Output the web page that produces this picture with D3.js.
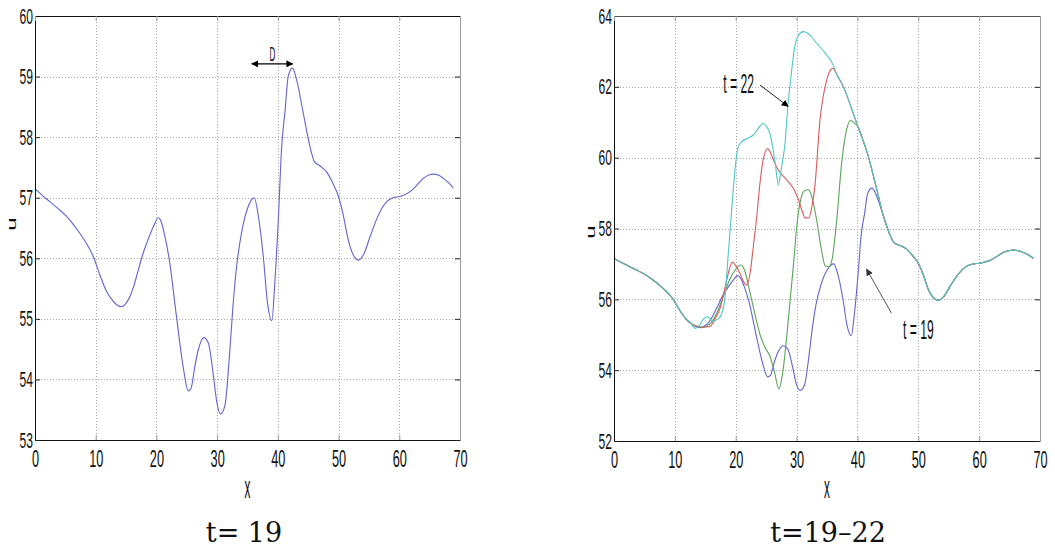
<!DOCTYPE html>
<html>
<head>
<meta charset="utf-8">
<script src="https://cdn.jsdelivr.net/npm/d3@7"></script>
<style>
  body { margin: 0; background: #fff; }
  svg { display: block; }
</style>
</head>
<body>
<svg id="fig" width="1055" height="553"></svg>
<script>
// ---- axis ticks ----
const xTicks = [0, 10, 20, 30, 40, 50, 60, 70];
const uTicksLeft = [53, 54, 55, 56, 57, 58, 59, 60];
const uTicksRight = [52, 54, 56, 58, 60, 62, 64];

// ---- u(x) profiles, [x, u] pairs ----
// shared start, identical for every time level
const lead = [[0, 57.15], [1.2, 57.04], [2.5, 56.93], [3.8, 56.82], [5.2, 56.69], [6.3, 56.56],
  [7.4, 56.41], [8.5, 56.24], [9.6, 56.03], [10.7, 55.72], [11.8, 55.45], [12.8, 55.3]];

// t = 19
const t19Mid = [[13.6, 55.22], [14.3, 55.2], [15.0, 55.26], [15.6, 55.36], [16.2, 55.52], [17.0, 55.8],
  [17.7, 56.05], [18.4, 56.25], [19.5, 56.52], [20.3, 56.67], [20.8, 56.6], [21.4, 56.36], [22.2, 55.92],
  [23.3, 55.04], [24.4, 54.21], [25.25, 53.81], [25.7, 53.85], [26.3, 54.2], [26.9, 54.49], [27.8, 54.69],
  [28.55, 54.6], [29.4, 54.05], [29.9, 53.65], [30.6, 53.43], [31.3, 53.58], [32.1, 54.49], [32.6, 55.2],
  [33.2, 55.86], [34.0, 56.41], [35.1, 56.85], [36.1, 57.0], [36.8, 56.69], [37.6, 56.03], [38.3, 55.26],
  [39.0, 54.97], [39.5, 55.59], [40.1, 56.69], [40.6, 57.79], [41.2, 58.45], [41.7, 59.0], [42.4, 59.14],
  [43.1, 58.94]];

// t = 20
const t20Mid = [[13.6, 55.25], [14.5, 55.2], [15.3, 55.25], [16.0, 55.35], [17.0, 55.65], [18.0, 56.1],
  [19.0, 56.55], [20.0, 56.85], [20.8, 56.97], [21.5, 56.8], [22.2, 56.3], [23.0, 55.7], [24.0, 55.0],
  [24.8, 54.65], [25.6, 54.4], [26.3, 54.0], [27.1, 53.47], [27.7, 53.9], [28.3, 54.8], [28.9, 55.9],
  [29.5, 57.0], [30.0, 58.0], [30.6, 58.75], [31.2, 59.05], [31.9, 59.1], [32.5, 58.9], [33.3, 58.24],
  [34.1, 57.39], [34.7, 56.95], [35.3, 56.92], [35.8, 57.1], [36.6, 58.24], [37.4, 59.84], [38.2, 60.78],
  [38.9, 61.05], [39.5, 60.98], [40.1, 60.87]];

// t = 21
const t21Mid = [[13.6, 55.24], [14.3, 55.22], [15.2, 55.22], [15.9, 55.25], [16.6, 55.45], [17.5, 55.78],
  [18.2, 56.3], [18.8, 56.75], [19.45, 57.05], [20.0, 56.95], [20.7, 56.73], [21.3, 56.5], [21.8, 56.4],
  [22.35, 56.73], [22.9, 57.5], [23.4, 58.24], [24.0, 59.3], [24.5, 59.93], [25.25, 60.26], [25.7, 60.15],
  [26.2, 59.93], [27.0, 59.65], [28.4, 59.37], [29.5, 59.13], [30.3, 58.82], [30.9, 58.5], [31.4, 58.3],
  [32.0, 58.3], [32.5, 58.6], [33.0, 59.18], [33.85, 61.06], [34.95, 62.19], [35.6, 62.48], [36.0, 62.52]];

// t = 22
const t22Mid = [[13.0, 55.22], [13.4, 55.18], [14.0, 55.25], [14.6, 55.42], [15.3, 55.51], [15.8, 55.45],
  [16.4, 55.37], [16.9, 55.43], [17.25, 55.46], [17.7, 55.6], [18.2, 56.0], [18.7, 57.1], [19.1, 58.0],
  [19.6, 59.1], [20.0, 59.85], [20.4, 60.3], [21.0, 60.45], [22.0, 60.55], [22.9, 60.64], [23.8, 60.85],
  [24.5, 60.97], [25.0, 60.9], [25.6, 60.69], [26.5, 59.84], [27.0, 59.23], [27.55, 59.75], [28.1, 60.4],
  [28.6, 61.53], [28.9, 62.0], [29.7, 63.13], [30.3, 63.45], [31.1, 63.56], [32.2, 63.46], [33.3, 63.23],
  [34.7, 62.95], [36.0, 62.62]];

// falling front shared by t = 20..22
const crest = [[36.6, 62.35], [37.7, 62.0], [38.9, 61.45], [40.1, 60.87], [41.0, 60.45], [41.8, 60.03],
  [42.6, 59.5], [43.4, 58.95]];

// common trailing part, identical for every time level
const tail = [[44.2, 58.39], [45.3, 57.84], [46.0, 57.6], [47.0, 57.52], [48.0, 57.43], [49.0, 57.25],
  [50.0, 57.02], [50.8, 56.7], [51.6, 56.3], [52.4, 56.06], [53.3, 55.97], [54.2, 56.08], [55.2, 56.36],
  [56.5, 56.7], [57.9, 56.93], [59.0, 57.0], [60.1, 57.02], [61.8, 57.1], [63.0, 57.22], [63.95, 57.32],
  [65.0, 57.38], [65.6, 57.39], [66.5, 57.37], [67.25, 57.32], [68.1, 57.25], [68.9, 57.16]];

const t19 = lead.concat(t19Mid, tail);
const t20 = lead.concat(t20Mid, crest.filter(p => p[0] > 40.1), tail);
const t21 = lead.concat(t21Mid, crest, tail);
const t22 = lead.concat(t22Mid, crest, tail);

const seriesColors = { t19: "#6363cf", t20: "#5aa55a", t21: "#d95b5b", t22: "#52c6c6" };

const svg = d3.select("#fig");
const tickFont = "'Liberation Sans', Arial, sans-serif";

// arrow head marker
const defs = svg.append("defs");
function addMarker(id, color) {
  defs.append("marker")
    .attr("id", id)
    .attr("viewBox", "0 0 10 10")
    .attr("refX", 9).attr("refY", 5)
    .attr("markerUnits", "userSpaceOnUse")
    .attr("markerWidth", 7).attr("markerHeight", 7)
    .attr("orient", "auto-start-reverse")
    .append("path").attr("d", "M0,0 L10,5 L0,10 Z").attr("fill", color);
}
addMarker("headBlack", "#000");
addMarker("headGrey", "#333");

// narrow the tick label glyphs horizontally, keeping their anchor point
function squeeze(sel, sx) {
  sel.selectAll(".tick text").each(function () {
    const t = d3.select(this);
    const tx = +t.attr("x") || 0, ty = +t.attr("y") || 0;
    t.attr("transform", `translate(${tx},${ty}) scale(${sx},1)`).attr("x", 0).attr("y", 0);
  });
}

function drawPanel(o) {
  const g = svg.append("g");
  const x = d3.scaleLinear().domain([0, 70]).range([o.left, o.right]);
  const y = d3.scaleLinear().domain(o.uDomain).range([o.bottom, o.top]);

  // dotted grid
  const grid = g.append("g").attr("stroke", "#a9a9a9").attr("stroke-width", 1)
    .attr("stroke-dasharray", "1,2");
  grid.selectAll("line.v").data(xTicks.slice(1, -1)).join("line")
    .attr("x1", d => Math.round(x(d)) + 0.5).attr("x2", d => Math.round(x(d)) + 0.5)
    .attr("y1", o.top).attr("y2", o.bottom);
  grid.selectAll("line.h").data(o.uTicks.slice(1, -1)).join("line")
    .attr("y1", d => Math.round(y(d)) + 0.5).attr("y2", d => Math.round(y(d)) + 0.5)
    .attr("x1", o.left).attr("x2", o.right);

  // curves
  const line = d3.line().x(d => x(d[0])).y(d => y(d[1])).curve(d3.curveMonotoneX);
  o.series.forEach(s => {
    g.append("path").datum(s.data).attr("d", line)
      .attr("fill", "none").attr("stroke", s.color).attr("stroke-width", 1.1)
      .attr("stroke-linejoin", "round");
  });

  // axes (ticks point inward)
  const fmt = d3.format("d");
  const ax = g.append("g").attr("transform", `translate(0,${o.bottom})`)
    .call(d3.axisBottom(x).tickValues(xTicks).tickFormat(fmt).tickSize(-5).tickSizeOuter(0).tickPadding(10));
  const ay = g.append("g").attr("transform", `translate(${o.left},0)`)
    .call(d3.axisLeft(y).tickValues(o.uTicks).tickFormat(fmt).tickSize(-5).tickSizeOuter(0).tickPadding(2));
  const ar = g.append("g").attr("transform", `translate(${o.right},0)`)
    .call(d3.axisRight(y).tickValues(o.uTicks).tickSize(-5).tickSizeOuter(0).tickFormat(""));
  const at = g.append("g").attr("transform", `translate(0,${o.top})`)
    .call(d3.axisTop(x).tickValues(xTicks).tickSize(-5).tickSizeOuter(0).tickFormat(""));

  [ax, ay].forEach(a => a.selectAll(".tick text").attr("fill", "#111").attr("font-family", tickFont));
  ax.selectAll(".tick text").attr("font-size", 24);
  ay.selectAll(".tick text").attr("font-size", 22);
  squeeze(ax, 0.53);
  squeeze(ay, 0.55);
  ax.select(".domain").attr("stroke", "#111");
  ay.select(".domain").attr("stroke", "#111");
  at.select(".domain").attr("stroke", o.topStroke);
  ar.select(".domain").attr("stroke", "#9a9a9a");
  ax.selectAll(".tick line").attr("stroke", "#999");
  at.selectAll(".tick line").attr("stroke", "#999");
  ay.selectAll(".tick line").attr("stroke", "#222");
  ar.selectAll(".tick line").attr("stroke", "#222");

  // axis titles
  g.append("text").text("x")
    .attr("transform", `translate(${(o.left + o.right) / 2},498) scale(0.38,1)`)
    .attr("text-anchor", "middle").attr("font-family", tickFont).attr("font-size", 31).attr("fill", "#111");
  g.append("text").text("u")
    .attr("transform", `translate(${o.left - 19},${o.uLabelY}) scale(0.5,1) rotate(-90)`)
    .attr("text-anchor", "middle").attr("font-family", tickFont).attr("font-size", 24).attr("fill", "#111");

  // caption
  g.append("text").text(o.caption)
    .attr("x", o.captionX).attr("y", 542)
    .attr("text-anchor", "middle").attr("font-family", "'DejaVu Serif', serif")
    .attr("font-size", 27).attr("fill", "#111");

  return { g, x, y };
}

// ---- left panel: single profile ----
const L = drawPanel({
  left: 35, right: 460, top: 16, bottom: 440,
  uDomain: [53, 60], uTicks: uTicksLeft, topStroke: "#111",
  series: [{ data: t19, color: seriesColors.t19 }],
  uLabelY: 224, caption: "t= 19", captionX: 244
});

// double arrow marking the spacing D between the two crests
L.g.append("line")
  .attr("x1", L.x(35.7)).attr("x2", L.x(42.45))
  .attr("y1", L.y(59.21)).attr("y2", L.y(59.21))
  .attr("stroke", "#000").attr("stroke-width", 1.3)
  .attr("marker-start", "url(#headBlack)").attr("marker-end", "url(#headBlack)");
L.g.append("text").text("D")
  .attr("transform", `translate(${L.x(39.1)},${L.y(59.21) - 3}) scale(0.4,1)`)
  .attr("text-anchor", "middle").attr("font-family", tickFont).attr("font-size", 20).attr("fill", "#111");

// ---- right panel: t = 19 .. 22 ----
const R = drawPanel({
  left: 614, right: 1040, top: 16, bottom: 441,
  uDomain: [52, 64], uTicks: uTicksRight, topStroke: "#555",
  series: [
    { data: t19, color: seriesColors.t19 },
    { data: t20, color: seriesColors.t20 },
    { data: t21, color: seriesColors.t21 },
    { data: t22, color: seriesColors.t22 }
  ],
  uLabelY: 232, caption: "t=19\u201322", captionX: 828
});

function labelArrow(panel, text, tx, tu, anchor, from, to, marker, color) {
  panel.g.append("line")
    .attr("x1", panel.x(from[0])).attr("y1", panel.y(from[1]))
    .attr("x2", panel.x(to[0])).attr("y2", panel.y(to[1]))
    .attr("stroke", color).attr("stroke-width", 1)
    .attr("marker-end", `url(#${marker})`);
  panel.g.append("text").text(text)
    .attr("transform", `translate(${panel.x(tx)},${panel.y(tu)}) scale(0.45,1)`)
    .attr("text-anchor", anchor).attr("dy", "0.36em")
    .attr("font-family", tickFont).attr("font-size", 27).attr("fill", "#111");
}
labelArrow(R, "t = 22", 23.0, 62.1, "end", [24.0, 62.05], [28.6, 61.45], "headBlack", "#222");
labelArrow(R, "t = 19", 47.5, 55.15, "start", [45.6, 55.61], [41.5, 56.85], "headGrey", "#555");
</script>
</body>
</html>
